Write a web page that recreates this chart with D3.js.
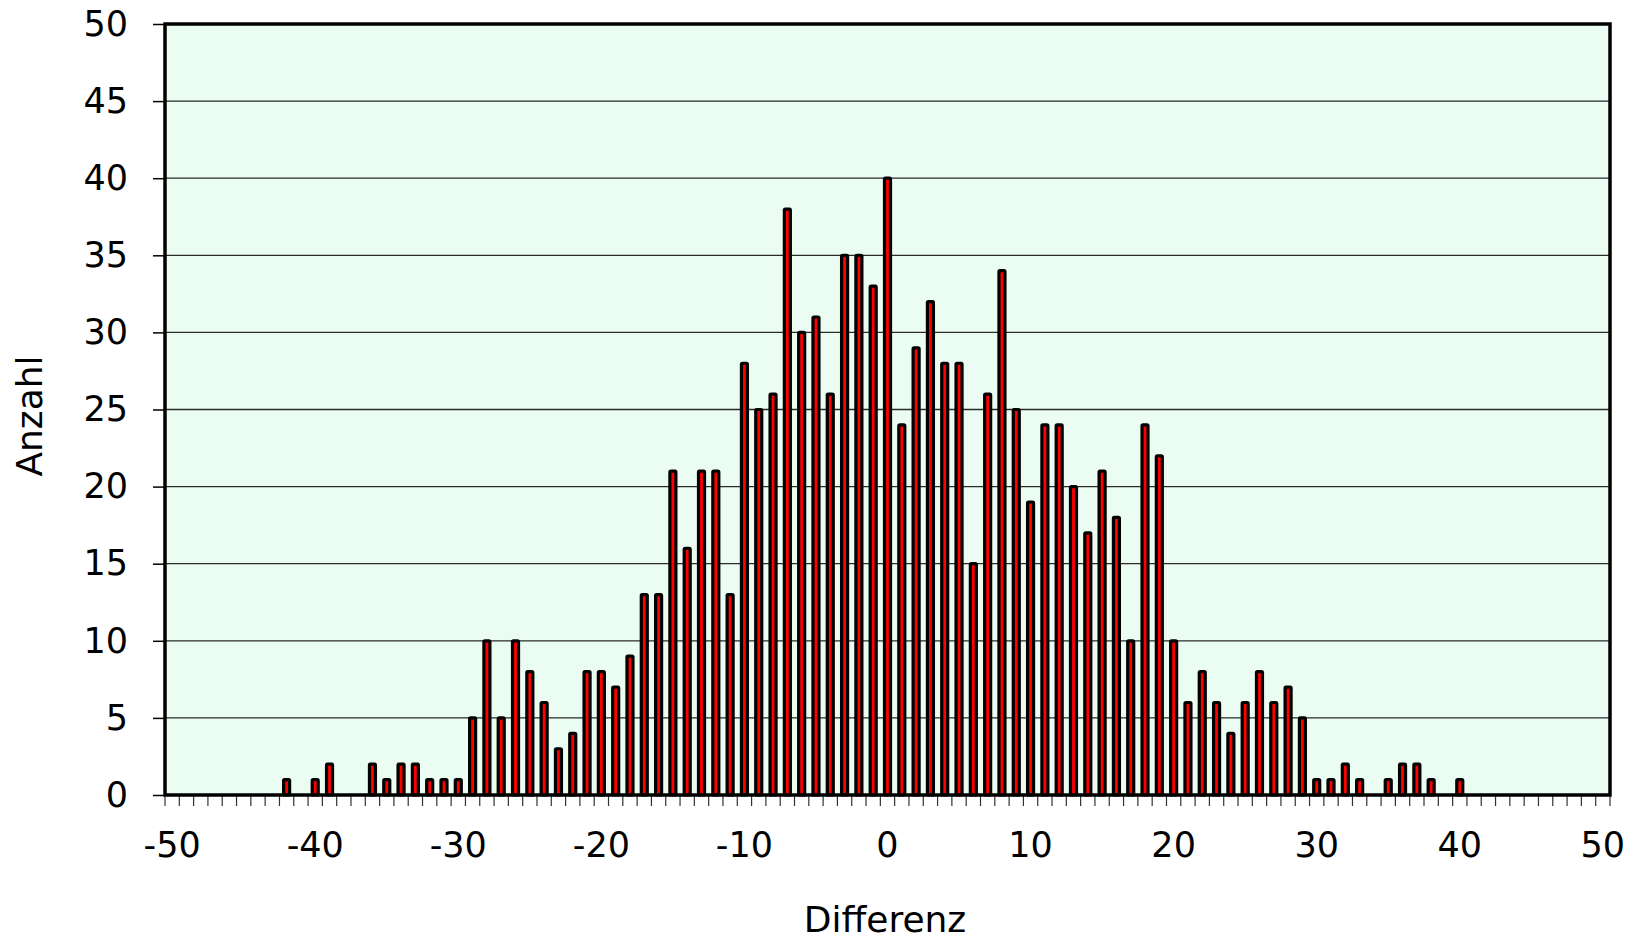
<!DOCTYPE html>
<html>
<head>
<meta charset="utf-8">
<script src="https://cdn.jsdelivr.net/npm/d3@7"></script>
<style>
  html, body { margin: 0; padding: 0; background: #ffffff; }
  svg { display: block; }
  text { font-family: "DejaVu Sans", Verdana, sans-serif; fill: #000; }
</style>
</head>
<body>
<svg id="chart" width="1639" height="941"></svg>
<script>
// Categories: Differenz from -50 to 50
const differenz = [
  -50,-49,-48,-47,-46,-45,-44,-43,-42,-41,
  -40,-39,-38,-37,-36,-35,-34,-33,-32,-31,
  -30,-29,-28,-27,-26,-25,-24,-23,-22,-21,
  -20,-19,-18,-17,-16,-15,-14,-13,-12,-11,
  -10,-9,-8,-7,-6,-5,-4,-3,-2,-1,
  0,1,2,3,4,5,6,7,8,9,
  10,11,12,13,14,15,16,17,18,19,
  20,21,22,23,24,25,26,27,28,29,
  30,31,32,33,34,35,36,37,38,39,
  40,41,42,43,44,45,46,47,48,49,
  50
];
// Anzahl (count) per Differenz
const anzahl = [
  0,0,0,0,0,0,0,0,1,0,
  1,2,0,0,2,1,2,2,1,1,
  1,5,10,5,10,8,6,3,4,8,
  8,7,9,13,13,21,16,21,21,13,
  28,25,26,38,30,31,26,35,35,33,
  40,24,29,32,28,28,15,26,34,25,
  19,24,24,20,17,21,18,10,24,22,
  10,6,8,6,4,6,8,6,7,5,
  1,1,2,1,0,1,2,2,1,0,
  1,0,0,0,0,0,0,0,0,0,
  0
];
const xTickLabels = [-50,-40,-30,-20,-10,0,10,20,30,40,50];
const yTicks = [0,5,10,15,20,25,30,35,40,45,50];
const xTitle = "Differenz";
const yTitle = "Anzahl";

(function () {
const pLeft = 165, pRight = 1610, pTop = 24, pBottom = 795;
const svg = d3.select("#chart");

const x = d3.scaleBand().domain(differenz).range([pLeft, pRight]).padding(0);
const y = d3.scaleLinear().domain([0, 50]).range([pBottom, pTop]);
const bw = x.bandwidth();

// plot background
svg.append("rect")
  .attr("x", pLeft).attr("y", pTop)
  .attr("width", pRight - pLeft).attr("height", pBottom - pTop)
  .attr("fill", "#ebfcf2");

// gridlines
svg.append("g").selectAll("line")
  .data(yTicks.filter(d => d > 0 && d < 50))
  .join("line")
  .attr("x1", pLeft).attr("x2", pRight)
  .attr("y1", d => y(d)).attr("y2", d => y(d))
  .attr("stroke", "#2a2a2a").attr("stroke-width", 1.3);

// bars
const barW = 6;
svg.append("g").selectAll("rect")
  .data(differenz.map((d, i) => ({ d, v: anzahl[i] })).filter(o => o.v > 0))
  .join("rect")
  .attr("x", o => x(o.d) + (bw - barW) / 2)
  .attr("y", o => y(o.v))
  .attr("width", barW)
  .attr("height", o => y(0) - y(o.v))
  .attr("rx", 1)
  .attr("fill", "#ff0000")
  .attr("stroke", "#000")
  .attr("stroke-width", 3.2);

// x minor ticks at band edges
const edges = differenz.map(d => x(d)).concat([x(differenz[differenz.length - 1]) + bw]);
svg.append("g").selectAll("line")
  .data(edges)
  .join("line")
  .attr("x1", d => d).attr("x2", d => d)
  .attr("y1", pBottom).attr("y2", pBottom + 11)
  .attr("stroke", "#333").attr("stroke-width", 1.2);

// x axis labels
const xAxis = d3.axisBottom(x).tickValues(xTickLabels).tickSize(0).tickPadding(37);
const gx = svg.append("g").attr("transform", `translate(0,${pBottom})`).call(xAxis);
gx.select(".domain").remove();
gx.selectAll("text").style("font-size", "35px").attr("fill", "#000")
  .style("font-family", "'DejaVu Sans', Verdana, sans-serif");

// y axis
const yAxis = d3.axisLeft(y).tickValues(yTicks).tickSize(12).tickPadding(25);
const gy = svg.append("g").attr("transform", `translate(${pLeft},0)`).call(yAxis);
gy.select(".domain").remove();
gy.selectAll("line").attr("stroke", "#000").attr("stroke-width", 1.5);
gy.selectAll("text").style("font-size", "35px").attr("fill", "#000")
  .style("font-family", "'DejaVu Sans', Verdana, sans-serif");

// plot frame
svg.append("rect")
  .attr("x", pLeft).attr("y", pTop)
  .attr("width", pRight - pLeft).attr("height", pBottom - pTop)
  .attr("fill", "none").attr("stroke", "#000").attr("stroke-width", 3.5);

// titles
svg.append("text")
  .attr("x", 885).attr("y", 932)
  .attr("text-anchor", "middle")
  .style("font-size", "36px")
  .text(xTitle);

svg.append("text")
  .attr("transform", "translate(42,416) rotate(-90)")
  .attr("text-anchor", "middle")
  .style("font-size", "36px")
  .text(yTitle);
})();
</script>
</body>
</html>
